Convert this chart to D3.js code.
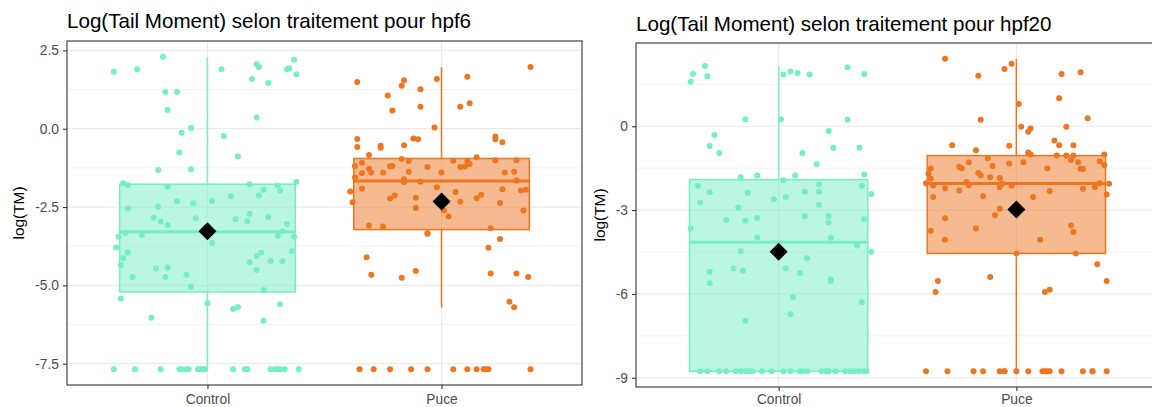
<!DOCTYPE html>
<html>
<head>
<meta charset="utf-8">
<script src="https://cdn.jsdelivr.net/npm/d3@7"></script>
<style>
  html, body { margin: 0; padding: 0; background: #fff; }
  svg { display: block; font-family: "Liberation Sans", Arial, sans-serif; }
</style>
</head>
<body>
<svg id="chart" width="1152" height="407"></svg>
<script>
// categories and colours
const categories = ['Control', 'Puce'];
const catColors = ['#76EEC6', '#EE7621'];

const titles = ['Log(Tail Moment) selon traitement pour hpf6', 'Log(Tail Moment) selon traitement pour hpf20'];
const yAxisLabel = 'log(TM)';

const hpf6Ticks = [-7.5, -5, -2.5, 0, 2.5];
const hpf20Ticks = [-9, -6, -3, 0];

// boxplot stats per category: [lower whisker, q1, median, q3, upper whisker]
const hpf6Stats = [[-7.68, -5.21, -3.29, -1.77, 2.29], [-5.71, -3.22, -1.67, -0.95, 1.96]];
const hpf6Means = [-3.27, -2.32];
const hpf20Stats = [[-8.77, -8.77, -4.15, -1.91, 2.16], [-8.77, -4.55, -2.05, -1.05, 2.41]];
const hpf20Means = [-4.49, -2.98];

// jittered points: [jitter offset, log(TM)]
const hpf6Control = [
  [-0.40, 1.82], [-0.30, 1.90], [-0.19, 2.30], [-0.18, 1.17], [-0.13, 1.17], [-0.17, 0.60], [-0.11, -0.13], [-0.07, 0.02],
  [-0.12, -0.76], [-0.21, -1.32], [-0.07, -1.29], [0.06, 1.90], [0.21, 2.06], [0.22, 1.97], [0.19, 1.59], [0.26, 1.46],
  [0.37, 2.20], [0.34, 1.90], [0.35, 1.92], [0.38, 1.74], [0.21, 0.36], [0.07, -0.23], [0.13, -0.89],
  [-0.36, -1.74], [-0.34, -1.80], [-0.17, -1.85], [0.18, -1.77], [0.30, -1.81], [0.31, -1.98], [0.24, -1.95], [0.38, -1.69],
  [-0.13, -2.31], [-0.06, -2.38], [0.02, -2.31], [0.10, -2.16], [0.22, -2.13], [-0.34, -2.55], [-0.21, -2.49], [-0.23, -2.84],
  [-0.20, -2.97], [-0.17, -3.07], [-0.05, -2.86], [0.12, -2.89], [0.18, -2.71], [0.17, -2.95], [0.26, -2.82], [0.34, -3.04],
  [-0.38, -3.45], [-0.35, -3.33], [-0.28, -3.39], [0.32, -3.27], [0.30, -3.42], [0.37, -3.45], [-0.39, -3.79], [0.02, -3.65],
  [-0.34, -3.95], [-0.36, -4.13], [-0.37, -4.35], [-0.22, -4.46], [-0.17, -4.43], [0.18, -4.26], [0.21, -4.06], [0.23, -3.96],
  [0.27, -4.22], [0.32, -4.23], [0.36, -3.91], [-0.32, -4.73], [-0.18, -4.73], [-0.09, -4.66], [-0.07, -5.04], [0.21, -4.51],
  [0.24, -5.15], [-0.37, -5.42], [0.00, -5.57], [-0.24, -6.03], [0.11, -5.75], [0.13, -5.69], [0.31, -5.60], [0.24, -6.13],
  [-0.40, -7.68], [-0.31, -7.68], [-0.20, -7.68], [-0.12, -7.68], [-0.11, -7.68], [-0.09, -7.68], [-0.08, -7.68],
  [-0.04, -7.68], [-0.03, -7.68], [-0.02, -7.68], [-0.01, -7.68], [0.11, -7.68], [0.16, -7.68], [0.17, -7.68],
  [0.27, -7.68], [0.29, -7.68], [0.30, -7.68], [0.31, -7.68], [0.33, -7.68], [0.39, -7.68]
];
const hpf6Puce = [
  [-0.36, 1.49], [-0.16, 1.55], [-0.17, 1.37], [-0.23, 1.06], [-0.09, 1.26], [-0.02, 1.59], [-0.21, 0.58], [-0.09, 0.70],
  [0.11, 1.66], [0.08, 0.70], [0.12, 0.81], [0.38, 1.97], [-0.03, 0.04], [-0.36, -0.33], [-0.36, -0.58], [-0.26, -0.54],
  [-0.26, -0.61], [-0.16, -0.53], [-0.12, -0.31], [-0.10, -0.34], [0.23, -0.34], [0.23, -0.25], [0.26, -0.43], [-0.31, -0.84],
  [0.15, -0.91], [-0.37, -1.19], [-0.34, -1.09], [-0.17, -0.97], [-0.14, -1.03], [0.05, -1.02], [0.11, -1.05], [0.23, -1.01],
  [0.32, -1.01], [-0.31, -1.28], [-0.30, -1.40], [-0.34, -1.41], [-0.37, -1.56], [-0.25, -1.40], [-0.22, -1.20], [-0.21, -1.19],
  [-0.14, -1.37], [-0.06, -1.22], [0.00, -1.40], [0.08, -1.22], [0.10, -1.21], [0.12, -1.13], [0.27, -1.40], [0.31, -1.37],
  [0.32, -1.65], [-0.16, -1.61], [-0.16, -1.70], [-0.09, -1.69], [-0.39, -2.00], [-0.34, -1.91], [-0.38, -2.35], [-0.22, -2.23],
  [-0.20, -2.13], [-0.11, -2.20], [-0.11, -2.53], [-0.02, -1.87], [0.06, -2.02], [0.08, -2.33], [0.15, -2.22], [0.17, -2.11],
  [0.26, -1.93], [0.34, -1.97], [0.36, -1.95], [0.25, -2.37], [0.35, -2.61], [0.01, -2.61], [0.03, -2.80], [-0.31, -3.09],
  [-0.25, -3.12], [-0.06, -3.34], [-0.06, -3.35], [0.21, -3.18], [0.25, -3.52], [0.20, -3.80], [-0.32, -4.10], [-0.30, -4.66],
  [-0.17, -4.76], [-0.11, -4.54], [0.21, -4.62], [0.32, -4.62], [0.37, -4.73], [0.29, -5.52], [0.31, -5.70],
  [-0.35, -7.68], [-0.29, -7.68], [-0.22, -7.68], [-0.13, -7.68], [-0.06, -7.68], [0.05, -7.68], [0.11, -7.68],
  [0.15, -7.68], [0.18, -7.68], [0.19, -7.68], [0.20, -7.68], [0.38, -7.68]
];
const hpf20Control = [
  [-0.37, 1.59], [-0.36, 1.87], [-0.31, 2.16], [-0.30, 1.79], [0.02, 1.85], [0.05, 1.96], [0.08, 1.91], [0.13, 1.85],
  [0.29, 2.11], [0.36, 1.87], [-0.14, 0.25], [0.01, 0.25], [0.29, 0.23], [-0.27, -0.31], [-0.29, -0.71], [-0.25, -0.96],
  [0.21, -0.17], [0.23, -0.77], [0.34, -0.77], [0.10, -0.96], [0.16, -1.36], [-0.16, -1.82], [-0.09, -1.76], [0.07, -1.76],
  [0.36, -1.73], [0.02, -1.93], [-0.34, -2.13], [-0.29, -2.36], [0.17, -2.08], [0.35, -2.13], [0.39, -2.42], [-0.13, -2.38],
  [0.11, -2.34], [0.17, -2.34], [-0.33, -2.73], [-0.17, -2.91], [-0.02, -2.61], [0.03, -2.53], [0.17, -2.81], [-0.22, -3.35],
  [-0.14, -3.38], [-0.09, -3.28], [0.11, -3.22], [0.21, -3.22], [0.21, -3.44], [0.36, -3.32], [-0.37, -3.66], [-0.09, -3.98],
  [0.22, -3.99], [0.33, -4.27], [0.39, -4.49], [-0.16, -4.47], [0.12, -4.72], [-0.29, -5.21], [-0.29, -5.62], [-0.19, -5.09],
  [-0.15, -5.17], [0.03, -5.09], [0.09, -5.25], [0.22, -5.48], [0.22, -5.54], [0.06, -6.11], [0.35, -6.30], [0.05, -6.73],
  [-0.14, -6.96],
  [-0.33, -8.77], [-0.30, -8.77], [-0.25, -8.77], [-0.22, -8.77], [-0.18, -8.77], [-0.16, -8.77], [-0.14, -8.77],
  [-0.13, -8.77], [-0.12, -8.77], [-0.11, -8.77], [-0.07, -8.77], [-0.03, -8.77], [0.02, -8.77], [0.05, -8.77],
  [0.09, -8.77], [0.10, -8.77], [0.12, -8.77], [0.18, -8.77], [0.20, -8.77], [0.21, -8.77], [0.24, -8.77],
  [0.28, -8.77], [0.30, -8.77], [0.31, -8.77], [0.32, -8.77], [0.34, -8.77], [0.36, -8.77], [0.37, -8.77]
];
const hpf20Puce = [
  [-0.30, 2.42], [-0.16, 1.81], [-0.05, 2.05], [-0.02, 2.24], [0.19, 1.87], [0.27, 1.93], [0.01, 0.80], [0.18, 1.00],
  [0.30, 0.29], [-0.15, 0.23], [0.02, -0.02], [0.05, -0.20], [0.06, -0.08], [0.21, -0.02], [-0.27, -0.68], [-0.17, -0.86],
  [-0.03, -0.70], [0.16, -0.51], [0.18, -0.68], [0.24, -0.68], [0.05, -0.94], [0.06, -1.01], [0.17, -1.05], [0.21, -1.05],
  [0.24, -1.05], [0.37, -1.01], [-0.12, -1.14], [-0.20, -1.29], [-0.24, -1.45], [-0.23, -1.51], [-0.10, -1.42], [-0.03, -1.33],
  [0.03, -1.29], [0.13, -1.51], [0.23, -1.21], [0.26, -1.29], [0.27, -1.52], [0.28, -1.53], [0.35, -1.25], [0.37, -1.39],
  [-0.36, -1.51], [-0.37, -1.70], [-0.36, -1.88], [-0.16, -1.67], [-0.15, -1.76], [-0.11, -1.82], [-0.07, -1.85], [-0.38, -2.04],
  [-0.35, -2.12], [-0.30, -2.22], [-0.24, -2.30], [-0.21, -1.99], [-0.20, -2.11], [-0.07, -2.18], [-0.06, -2.06], [-0.02, -2.13],
  [0.14, -2.32], [0.28, -2.24], [0.33, -2.18], [0.35, -2.04], [0.39, -2.06], [0.38, -2.44], [-0.35, -2.53], [-0.14, -2.50],
  [0.07, -2.53], [-0.07, -2.95], [-0.09, -3.18], [-0.30, -3.29], [-0.17, -3.66], [-0.36, -3.74], [-0.30, -4.06], [0.10, -4.06],
  [0.23, -3.55], [0.24, -3.78], [0.00, -4.55], [0.25, -4.55], [0.34, -4.94], [-0.11, -5.39], [-0.33, -5.54], [-0.34, -5.93],
  [0.38, -5.54], [0.12, -5.93], [0.14, -5.85],
  [-0.38, -8.77], [-0.29, -8.77], [-0.18, -8.77], [-0.14, -8.77], [-0.07, -8.77], [-0.05, -8.77], [-0.05, -8.77],
  [0.00, -8.77], [0.05, -8.77], [0.11, -8.77], [0.12, -8.77], [0.13, -8.77], [0.14, -8.77], [0.19, -8.77],
  [0.28, -8.77], [0.32, -8.77], [0.32, -8.77], [0.38, -8.77]
];

const svg = d3.select('#chart');

function drawPanel(p) {
    const allVals = p.points.flat().map(d => d[1]).concat(p.stats.flat());
    const [vMin, vMax] = d3.extent(allVals);
    const pad = (vMax - vMin) * 0.05;

    const x = d3.scaleLinear().domain([0.4, categories.length + 0.6]).range([p.left, p.right]);
    const y = d3.scaleLinear().domain([vMin - pad, vMax + pad]).range([p.bottom, p.top]);
    const g = svg.append('g');

    // minor grid (half steps)
    const step = p.ticks[1] - p.ticks[0];
    const minor = d3.range(p.ticks[0] - step / 2, vMax + pad, step).filter(v => v > vMin - pad);
    g.selectAll('.minor').data(minor).join('line')
        .attr('x1', p.left).attr('x2', p.right)
        .attr('y1', d => y(d)).attr('y2', d => y(d))
        .attr('stroke', '#EBEBEB').attr('stroke-width', 0.6);

    g.selectAll('.major').data(p.ticks).join('line')
        .attr('x1', p.left).attr('x2', p.right)
        .attr('y1', d => y(d)).attr('y2', d => y(d))
        .attr('stroke', '#EBEBEB').attr('stroke-width', 1.2);

    g.selectAll('.vgrid').data(categories).join('line')
        .attr('x1', (d, i) => x(i + 1)).attr('x2', (d, i) => x(i + 1))
        .attr('y1', p.top).attr('y2', p.bottom)
        .attr('stroke', '#EBEBEB').attr('stroke-width', 1.2);

    // boxes
    categories.forEach((c, i) => {
        const [lo, q1, med, q3, hi] = p.stats[i];
        const cx = x(i + 1);
        const x0 = x(i + 1 - 0.375), x1 = x(i + 1 + 0.375);
        const col = catColors[i];
        g.append('line').attr('x1', cx).attr('x2', cx).attr('y1', y(q3)).attr('y2', y(hi))
            .attr('stroke', col).attr('stroke-width', 1.5);
        g.append('line').attr('x1', cx).attr('x2', cx).attr('y1', y(q1)).attr('y2', y(lo))
            .attr('stroke', col).attr('stroke-width', 1.5);
        g.append('rect').attr('x', x0).attr('y', y(q3))
            .attr('width', x1 - x0).attr('height', y(q1) - y(q3))
            .attr('fill', col).attr('fill-opacity', 0.5)
            .attr('stroke', col).attr('stroke-width', 1.5);
        g.append('line').attr('x1', x0).attr('x2', x1).attr('y1', y(med)).attr('y2', y(med))
            .attr('stroke', col).attr('stroke-width', 3);
    });

    // jittered points
    p.points.forEach((pts, i) => {
        g.selectAll(null).data(pts).join('circle')
            .attr('cx', d => x(i + 1 + d[0]))
            .attr('cy', d => y(d[1]))
            .attr('r', 3)
            .attr('fill', catColors[i]);
    });

    // means
    const diamond = d3.symbol(d3.symbolSquare, 162);
    g.selectAll('.mean').data(p.means).join('path')
        .attr('d', diamond)
        .attr('transform', (d, i) => `translate(${x(i + 1)},${y(d)}) rotate(45)`)
        .attr('fill', '#000');

    // panel border
    g.append('rect')
        .attr('x', p.left).attr('y', p.top)
        .attr('width', p.right - p.left).attr('height', p.bottom - p.top)
        .attr('fill', 'none').attr('stroke', '#333').attr('stroke-width', 1.1);

    // axes
    const yAxis = d3.axisLeft(y).tickValues(p.ticks).tickFormat(p.fmt).tickSize(4).tickPadding(4);
    const ya = g.append('g').attr('transform', `translate(${p.left},0)`).call(yAxis);
    const xAxis = d3.axisBottom(x).tickValues(categories.map((c, i) => i + 1))
        .tickFormat(d => categories[d - 1]).tickSize(4).tickPadding(p.xPad);
    const xa = g.append('g').attr('transform', `translate(0,${p.bottom})`).call(xAxis);
    [ya, xa].forEach(a => {
        a.select('.domain').remove();
        a.selectAll('line').attr('stroke', '#333').attr('stroke-width', 1.1);
        a.selectAll('text').attr('fill', '#4D4D4D').style('font-size', '13.8px')
            .style('font-family', '"Liberation Sans", Arial, sans-serif');
    });

    // titles
    g.append('text')
        .attr('x', p.left).attr('y', p.titleY)
        .style('font-size', '20.6px').attr('fill', '#000')
        .text(p.title);

    g.append('text')
        .attr('transform', `translate(${p.yLabelX},${(p.top + p.bottom) / 2}) rotate(-90)`)
        .attr('text-anchor', 'middle')
        .style('font-size', '15.4px').attr('fill', '#000')
        .text(yAxisLabel);
}

drawPanel({
    left: 67, right: 582, top: 41, bottom: 385, titleY: 28, yLabelX: 24, xPad: 5,
    title: titles[0], ticks: hpf6Ticks, fmt: d => d.toFixed(1),
    stats: hpf6Stats, means: hpf6Means, points: [hpf6Control, hpf6Puce]
});

drawPanel({
    left: 636, right: 1159, top: 43, bottom: 387, titleY: 31, yLabelX: 605, xPad: 3,
    title: titles[1], ticks: hpf20Ticks, fmt: d => String(d),
    stats: hpf20Stats, means: hpf20Means, points: [hpf20Control, hpf20Puce]
});
</script>
</body>
</html>
